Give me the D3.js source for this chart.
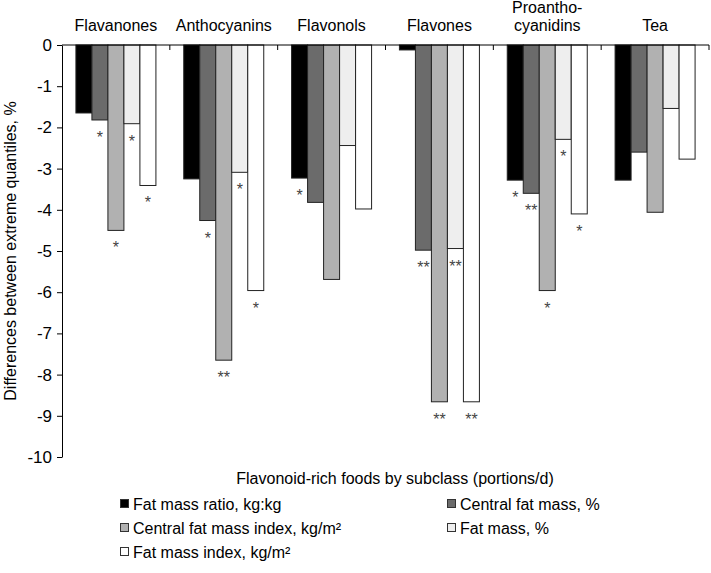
<!DOCTYPE html>
<html>
<head>
<meta charset="utf-8">
<script src="https://cdn.jsdelivr.net/npm/d3@7"></script>
<style>
  body { margin: 0; background: #fff; }
  text { font-family: "Liberation Sans", Arial, sans-serif; fill: #000; }
</style>
</head>
<body>
<svg id="chart" width="711" height="573"></svg>
<script>
// categories (subclasses) and series
var categories = ["Flavanones", "Anthocyanins", "Flavonols", "Flavones", "Proanthocyanidins", "Tea"];
var categoryLabels = [["Flavanones"], ["Anthocyanins"], ["Flavonols"], ["Flavones"], ["Proantho-", "cyanidins"], ["Tea"]];
var seriesNames = ["Fat mass ratio, kg:kg", "Central fat mass, %", "Central fat mass index, kg/m²", "Fat mass, %", "Fat mass index, kg/m²"];
var seriesColors = ["#000000", "#6b6b6b", "#b1b1b1", "#eeeeee", "#ffffff"];

// values per series, one per category
var fatMassRatio = [-1.65, -3.25, -3.23, -0.12, -3.28, -3.28];
var centralFatMass = [-1.82, -4.26, -3.82, -4.98, -3.60, -2.60];
var centralFatMassIndex = [-4.50, -7.65, -5.69, -8.66, -5.96, -4.06];
var fatMassPct = [-1.91, -3.09, -2.44, -4.94, -2.29, -1.54];
var fatMassIndex = [-3.41, -5.96, -3.98, -8.66, -4.10, -2.77];

// significance markers per series
var sigFatMassRatio = ["", "", "*", "", "*", ""];
var sigCentralFatMass = ["*", "*", "", "**", "**", ""];
var sigCentralFatMassIndex = ["*", "**", "", "**", "*", ""];
var sigFatMassPct = ["*", "*", "", "**", "*", ""];
var sigFatMassIndex = ["*", "*", "", "**", "*", ""];

var yTicks = [0, -1, -2, -3, -4, -5, -6, -7, -8, -9, -10];

var seriesValues = [fatMassRatio, centralFatMass, centralFatMassIndex, fatMassPct, fatMassIndex];
var seriesSig = [sigFatMassRatio, sigCentralFatMass, sigCentralFatMassIndex, sigFatMassPct, sigFatMassIndex];

var svg = d3.select("#chart");
var plotLeft = 62, plotRight = 709, plotTop = 45, plotBottom = 457;

var x0 = d3.scaleBand().domain(categories).range([plotLeft, plotRight]).paddingInner(0).paddingOuter(0);
var x1 = d3.scaleBand().domain(d3.range(seriesNames.length)).range([0, x0.bandwidth()]).paddingInner(0).paddingOuter(0.87);
var y = d3.scaleLinear().domain([0, -10]).range([plotTop, plotBottom]);

var bars = [];
categories.forEach(function (c, ci) {
    seriesValues.forEach(function (vals, si) {
        bars.push({ cat: c, s: si, v: vals[ci], sig: seriesSig[si][ci] });
    });
});

// bars
svg.append("g").selectAll("rect")
    .data(bars)
    .enter()
    .append("rect")
    .attr("x", function (d) { return x0(d.cat) + x1(d.s); })
    .attr("y", y(0))
    .attr("width", x1.bandwidth())
    .attr("height", function (d) { return y(d.v) - y(0); })
    .attr("fill", function (d) { return seriesColors[d.s]; })
    .attr("stroke", "#222")
    .attr("stroke-width", 1);

// significance stars
svg.append("g").selectAll("text")
    .data(bars.filter(function (d) { return d.sig; }))
    .enter()
    .append("text")
    .attr("x", function (d) { return x0(d.cat) + x1(d.s) + x1.bandwidth() / 2; })
    .attr("y", function (d) { return y(d.v) + 23; })
    .attr("text-anchor", "middle")
    .style("font-size", "16px")
    .style("fill", "#444")
    .text(function (d) { return d.sig; });

// y axis
var yAxis = d3.axisLeft(y).tickValues(yTicks).tickSize(5).tickSizeOuter(0).tickFormat(function (d) { return String(d); });
var gy = svg.append("g").attr("transform", "translate(" + plotLeft + ",0)").call(yAxis);
gy.selectAll("text").style("font-size", "17px").attr("x", -10).style("font-family", "Liberation Sans, Arial, sans-serif").attr("fill", "#000");
gy.selectAll("line, path").attr("stroke", "#000");

// category axis along zero
var gx = svg.append("g").attr("transform", "translate(0," + y(0) + ")");
gx.append("line").attr("x1", plotLeft).attr("x2", plotRight).attr("stroke", "#000");
gx.selectAll(".ctick")
    .data(categories)
    .enter()
    .append("line")
    .attr("class", "ctick")
    .attr("x1", function (d) { return x0(d) + x0.bandwidth(); })
    .attr("x2", function (d) { return x0(d) + x0.bandwidth(); })
    .attr("y1", 0).attr("y2", 5)
    .attr("stroke", "#000");

// category labels on top
svg.append("g").selectAll("text")
    .data(categories)
    .enter()
    .append("text")
    .attr("x", function (d) { return x0(d) + x0.bandwidth() / 2; })
    .attr("text-anchor", "middle")
    .style("font-size", "16px")
    .each(function (d, i) {
        var lines = categoryLabels[i];
        var t = d3.select(this);
        lines.forEach(function (l, li) {
            t.append("tspan")
                .attr("x", x0(d) + x0.bandwidth() / 2)
                .attr("y", 31 - (lines.length - 1 - li) * 18)
                .text(l);
        });
    });

// axis titles
svg.append("text")
    .attr("transform", "translate(16," + ((plotTop + plotBottom) / 2) + ") rotate(-90)")
    .attr("text-anchor", "middle")
    .style("font-size", "16px")
    .text("Differences between extreme quantiles, %");

svg.append("text")
    .attr("x", 395)
    .attr("y", 484)
    .attr("text-anchor", "middle")
    .style("font-size", "16px")
    .text("Flavonoid-rich foods by subclass (portions/d)");

// legend
var legendPos = [[120, 504], [447, 504], [120, 528], [447, 528], [120, 552]];
var lg = svg.append("g").selectAll("g")
    .data(seriesNames)
    .enter()
    .append("g")
    .attr("transform", function (d, i) { return "translate(" + legendPos[i][0] + "," + legendPos[i][1] + ")"; });
lg.append("rect")
    .attr("x", 0.5).attr("y", -4.5)
    .attr("width", 8).attr("height", 8)
    .attr("fill", function (d, i) { return seriesColors[i]; })
    .attr("stroke", "#333");
lg.append("text")
    .attr("x", 13)
    .attr("y", 5.5)
    .style("font-size", "16px")
    .text(function (d) { return d; });
</script>
</body>
</html>
